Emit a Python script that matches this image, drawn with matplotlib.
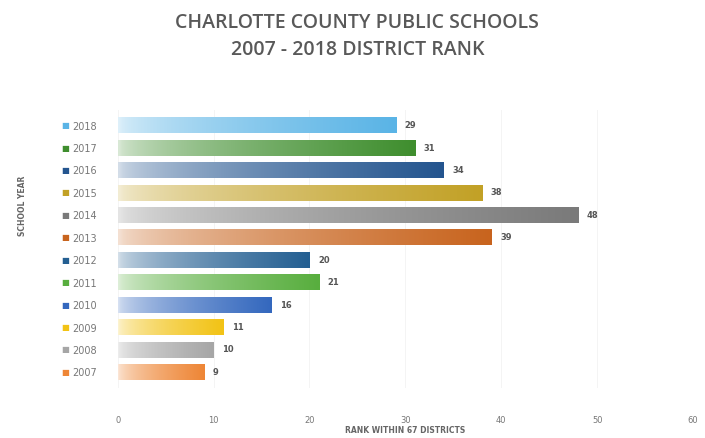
import numpy as np
import matplotlib
matplotlib.use("Agg")
import matplotlib.pyplot as plt
import matplotlib.transforms as mtransforms
from matplotlib.colors import to_rgb

# data (top to bottom)
years = ["2018", "2017", "2016", "2015", "2014", "2013",
         "2012", "2011", "2010", "2009", "2008", "2007"]
ranks = [29, 31, 34, 38, 48, 39, 20, 21, 16, 11, 10, 9]
colors = ["#5AB4E6", "#3F8E2E", "#24558F", "#C2A126", "#7A7A7A", "#C8641E",
          "#245F92", "#58AE3E", "#3468BE", "#F2C315", "#A6A6A6", "#EE8636"]
xticks = [0, 10, 20, 30, 40, 50, 60]

fig = plt.figure(figsize=(7.05, 4.38), dpi=100)
ax = fig.add_axes([0.167, 0.114, 0.816, 0.635])
key_tr = mtransforms.blended_transform_factory(ax.transAxes, ax.transData)

ypos = np.arange(len(years))
h = 0.68
for y, v, c in zip(ypos, ranks, colors):
    r, g, b = to_rgb(c)
    t = np.linspace(0, 1, 100) ** 0.6
    img = np.zeros((1, 100, 3))
    img[0, :, 0] = 1 - (1 - r) * (0.2 + 0.8 * t)
    img[0, :, 1] = 1 - (1 - g) * (0.2 + 0.8 * t)
    img[0, :, 2] = 1 - (1 - b) * (0.2 + 0.8 * t)
    ax.imshow(img, extent=[0, v, y + h / 2, y - h / 2], aspect="auto",
              interpolation="bilinear", zorder=2)
    ax.text(v + 0.9, y, str(v), va="center", ha="left", fontsize=6,
            color="#555555", fontweight="bold")
    # small colour key left of the year label
    ax.text(-0.092, y, "■", va="center", ha="center", fontsize=6, color=c,
            transform=key_tr, clip_on=False)

ax.set_xlim(0, 60)
ax.set_ylim(len(years) - 0.3, -0.7)
ax.set_yticks(ypos)
ax.set_yticklabels(years, fontsize=7, color="#777777")
ax.set_xticks(xticks)
ax.set_xticklabels([str(x) for x in xticks], fontsize=6, color="#777777")
ax.tick_params(axis="both", length=0)
ax.tick_params(axis="x", pad=20)
ax.tick_params(axis="y", pad=15)
for s in ax.spines.values():
    s.set_visible(False)
ax.grid(axis="x", color="#F2F2F2", linewidth=0.6, zorder=0)
ax.set_axisbelow(True)

ax.set_xlabel("RANK WITHIN 67 DISTRICTS", fontsize=5.5, color="#666666",
              fontweight="bold", labelpad=1)
fig.text(0.032, 0.53, "SCHOOL YEAR", rotation=90, fontsize=5.5,
         color="#666666", fontweight="bold", ha="center", va="center")

fig.text(0.507, 0.948, "CHARLOTTE COUNTY PUBLIC SCHOOLS", ha="center",
         va="center", fontsize=14, color="#595959", family="Open Sans",
         fontweight="semibold")
fig.text(0.507, 0.885, "2007 - 2018 DISTRICT RANK", ha="center",
         va="center", fontsize=14, color="#595959", family="Open Sans",
         fontweight="semibold")

fig.savefig("out.png", dpi=100)
